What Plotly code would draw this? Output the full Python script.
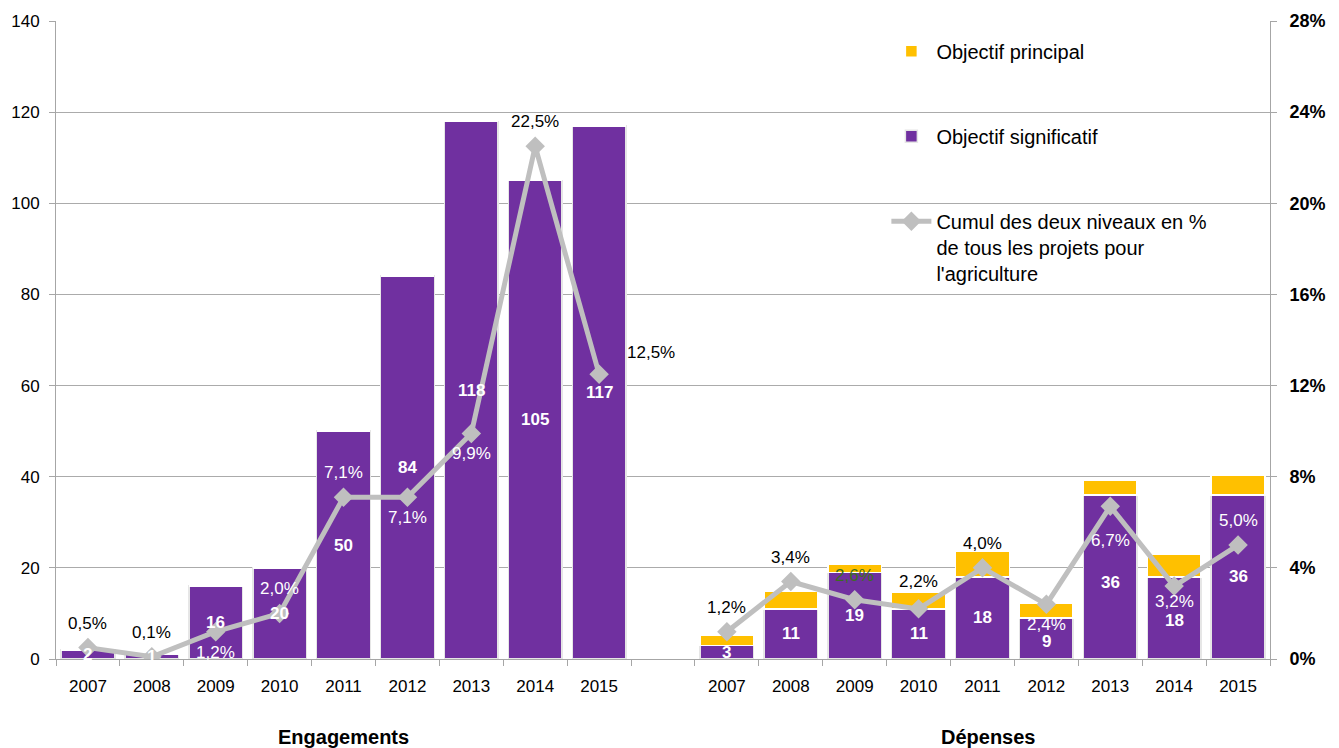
import plotly.graph_objects as go

# ---- data ----
years = ["2007", "2008", "2009", "2010", "2011", "2012", "2013", "2014", "2015"]
groups = ["Engagements", "Dépenses"]

eng_significatif = [2, 1, 16, 20, 50, 84, 118, 105, 117]
eng_principal = [0, 0, 0, 0, 0, 0, 0, 0, 0]
eng_pct = [0.5, 0.1, 1.2, 2.0, 7.1, 7.1, 9.9, 22.5, 12.5]

dep_significatif = [3, 11, 19, 11, 18, 9, 36, 18, 36]
dep_principal = [2.2, 3.8, 1.8, 3.7, 5.7, 3.3, 3.3, 5.0, 4.4]
dep_pct = [1.2, 3.4, 2.6, 2.2, 4.0, 2.4, 6.7, 3.2, 5.0]

y_ticks = [0, 20, 40, 60, 80, 100, 120, 140]
y2_ticks = [0, 4, 8, 12, 16, 20, 24, 28]

# ---- label styling (position of percentage labels relative to markers: place, colour, pixel shift) ----
eng_pct_style = [("above", "black", 0), ("above", "black", 0), ("below", "white", 0), ("above", "white", 0),
                 ("above", "white", 0), ("below", "white", 0), ("below", "white", 0), ("above", "black", 0),
                 ("right", "black", 0)]
dep_pct_style = [("above", "black", 0), ("above", "black", 0), ("above", "#3B6E1E", 0), ("above", "black", 3),
                 ("above", "black", 0), ("below", "white", 0), ("below", "white", -14), ("below", "white", 5),
                 ("above", "white", 0)]
# pixel nudges of the bar value labels
bar_label_shift = [0] * 9 + [0, 0, 0, 0, 0, -3, -6, -3, 0]

PURPLE = "#7030A0"
YELLOW = "#FFC000"
GREY = "#BFBFBF"
FONT = "Liberation Sans, Arial, sans-serif"

n = len(years)
x_eng = list(range(n))
x_dep = [i + n + 1 for i in range(n)]
x_all = x_eng + x_dep
sig_all = eng_significatif + dep_significatif
pri_all = eng_principal + dep_principal

fig = go.Figure()

fig.add_trace(go.Bar(
    x=x_all, y=sig_all, name="Objectif significatif",
    marker=dict(color=PURPLE, line=dict(color="#E6E6E6", width=1.5)),
    width=0.84, legendrank=2, legendgroup="b", hoverinfo="y",
))
fig.add_trace(go.Bar(
    x=x_all, y=pri_all, name="Objectif principal",
    marker=dict(color=YELLOW, line=dict(color="white", width=1.5)),
    width=0.84, legendrank=1, legendgroup="a", hoverinfo="y",
))
fig.add_trace(go.Scatter(
    x=x_eng + [None] + x_dep, y=eng_pct + [None] + dep_pct, yaxis="y2",
    name="Cumul des deux niveaux en %<br>de tous les projets pour<br>l'agriculture",
    mode="lines+markers", line=dict(color=GREY, width=5),
    marker=dict(symbol="diamond", size=15, color=GREY),
    connectgaps=False, legendrank=3, legendgroup="c",
))

annotations = []
# bar value labels
for xi, v, sh in zip(x_all, sig_all, bar_label_shift):
    annotations.append(dict(x=xi, y=v / 2, xref="x", yref="y", text=f"<b>{v}</b>",
                            showarrow=False, yshift=sh,
                            font=dict(size=17, color="white", family=FONT)))


def pct_text(v):
    return f"{v:.1f}".replace(".", ",") + "%"


for xs, vals, styles in ((x_eng, eng_pct, eng_pct_style), (x_dep, dep_pct, dep_pct_style)):
    for xi, v, (pos, col, sh) in zip(xs, vals, styles):
        a = dict(x=xi, y=v, xref="x", yref="y2", text=pct_text(v), showarrow=False,
                 font=dict(size=17, color=col, family=FONT))
        if pos == "above":
            a.update(yanchor="bottom", yshift=13 + sh)
        elif pos == "below":
            a.update(yanchor="top", yshift=-9 + sh)
        else:
            a.update(xanchor="left", xshift=26, yshift=22)
        annotations.append(a)

# group titles
annotations.append(dict(x=(n - 1) / 2, y=-0.143, xref="x", yref="paper", text="<b>Engagements</b>",
                        showarrow=False, font=dict(size=20, color="black", family=FONT)))
annotations.append(dict(x=n + 1 + (n - 1) / 2 + 0.1, y=-0.143, xref="x", yref="paper", text="<b>Dépenses</b>",
                        showarrow=False, font=dict(size=20, color="black", family=FONT)))

fig.update_layout(
    width=1339, height=748,
    margin=dict(l=56, r=69, t=21, b=89),
    paper_bgcolor="white", plot_bgcolor="white",
    barmode="stack", bargap=0.16,
    font=dict(family=FONT, size=17, color="black"),
    showlegend=True,
    legend=dict(x=0.684, y=0.983, xanchor="left", yanchor="top",
                font=dict(size=20, family=FONT, color="black"),
                tracegroupgap=56, valign="top", traceorder="grouped",
                bgcolor="rgba(0,0,0,0)", itemwidth=40),
    xaxis=dict(range=[-0.5, 2 * n + 0.5],
               tickmode="array", tickvals=x_all, ticktext=years + years,
               ticks="", showgrid=False, showline=True, linecolor="#A6A6A6", linewidth=1,
               tickfont=dict(size=17, family=FONT), ticklabelstandoff=12,
               minor=dict(tickmode="linear", tick0=-0.5, dtick=1, ticks="outside",
                          ticklen=6, tickcolor="#A6A6A6", showgrid=False),
               zeroline=False, fixedrange=True),
    yaxis=dict(range=[0, 140], tickmode="array", tickvals=y_ticks,
               showgrid=True, gridcolor="#ABABAB", gridwidth=1,
               showline=True, linecolor="#A6A6A6", linewidth=1,
               ticks="outside", ticklen=6, tickcolor="#A6A6A6", ticklabelstandoff=6,
               tickfont=dict(size=17, family=FONT), zeroline=False),
    yaxis2=dict(range=[0, 28], overlaying="y", side="right", tickmode="array",
                tickvals=y2_ticks, ticktext=[f"{t}%" for t in y2_ticks],
                showgrid=False, showline=True, linecolor="#A6A6A6", linewidth=1,
                ticks="outside", ticklen=6, tickcolor="#A6A6A6", ticklabelstandoff=9,
                tickfont=dict(size=18, family=FONT, weight="bold"), zeroline=False),
    annotations=annotations,
)

fig.write_html("out.html")
